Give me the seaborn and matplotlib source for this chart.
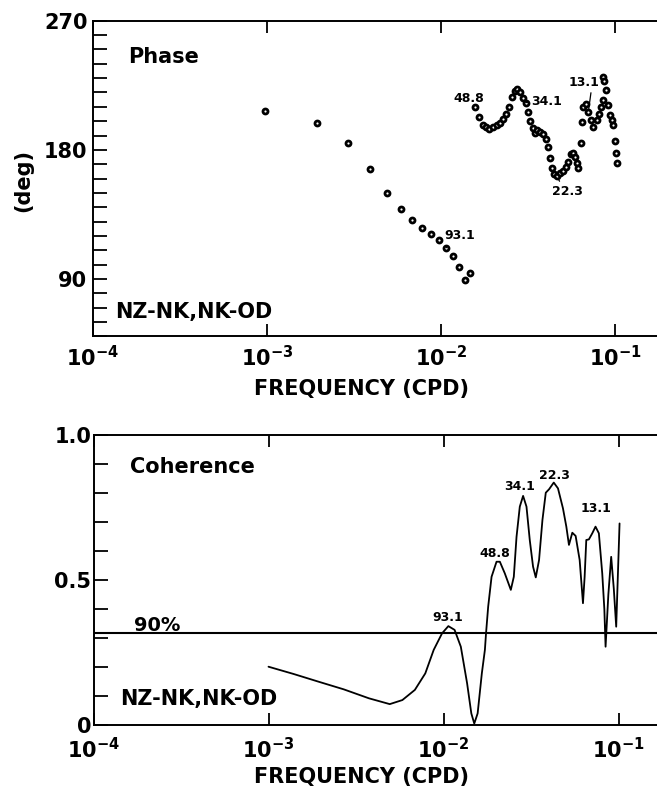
import numpy as np
import pandas as pd
import matplotlib
matplotlib.use("Agg")
import matplotlib.pyplot as plt
from matplotlib.ticker import MultipleLocator, NullLocator, FixedLocator
import seaborn as sns

# ── data ──────────────────────────────────────────────────────────
# phase, low-frequency branch (cpd, deg)
phase_freq_lo = [0.00098, 0.00195, 0.00293, 0.00391, 0.00488, 0.00586, 0.00684,
                 0.00781, 0.00879, 0.00977, 0.01074, 0.01172, 0.01270, 0.01367,
                 0.01465]
phase_deg_lo = [207.1, 198.9, 184.6, 166.4, 149.9, 138.8, 130.9,
                125.7, 121.1, 117.0, 111.8, 106.0, 98.6, 89.3,
                94.0]

# phase, high-frequency branch
phase_freq_hi = [0.01568, 0.01660, 0.01751, 0.01815, 0.01896, 0.01983, 0.02090,
                 0.02184, 0.02280, 0.02364, 0.02450, 0.02549, 0.02663, 0.02745,
                 0.02844, 0.02972, 0.03080, 0.03150, 0.03247, 0.03365, 0.03455,
                 0.03576, 0.03707, 0.03872, 0.03997, 0.04137, 0.04231, 0.04345,
                 0.04461, 0.04623, 0.04830, 0.05046, 0.05230, 0.05391, 0.05565,
                 0.05714, 0.05891, 0.06026, 0.06155, 0.06378, 0.06437, 0.06575,
                 0.06813, 0.07025, 0.07251, 0.07506, 0.07850, 0.08125, 0.08310,
                 0.08499, 0.08560, 0.08620, 0.08881, 0.09118, 0.09359, 0.09571,
                 0.09700, 0.10000, 0.10133, 0.10228]
phase_deg_hi = [209.7, 203.1, 197.3, 195.7, 194.7, 195.7, 197.1,
                198.5, 201.3, 205.0, 209.7, 216.6, 221.2, 222.2,
                220.5, 215.9, 212.9, 206.6, 200.3, 195.0, 192.0,
                193.8, 192.6, 190.8, 187.4, 182.2, 174.1, 167.1,
                163.2, 161.8, 163.7, 165.5, 168.3, 171.7, 177.1,
                178.0, 175.2, 171.0, 167.1, 184.6, 199.6, 209.7,
                212.0, 206.4, 200.8, 196.1, 200.8, 205.0, 209.9,
                214.7, 230.6, 227.7, 221.7, 211.3, 204.3, 200.8,
                197.3, 186.4, 177.8, 171.0]

# coherence
coh_freq = [0.00100, 0.00139, 0.00194, 0.00269, 0.00375, 0.00493, 0.00582,
            0.00686, 0.00787, 0.00879, 0.00981, 0.01066, 0.01157, 0.01256,
            0.01364, 0.01442, 0.01499, 0.01567, 0.01656, 0.01724, 0.01750,
            0.01800, 0.01882, 0.02009, 0.02099, 0.02240, 0.02425, 0.02522,
            0.02614, 0.02729, 0.02850, 0.02980, 0.03111, 0.03249, 0.03367,
            0.03516, 0.03676, 0.03841, 0.04012, 0.04266, 0.04510, 0.04816,
            0.05034, 0.05210, 0.05446, 0.05689, 0.05998, 0.06266, 0.06404,
            0.06545, 0.06774, 0.07081, 0.07391, 0.07724, 0.08074, 0.08300,
            0.08436, 0.08750, 0.09082, 0.09400, 0.09702, 0.10140]
coh_val = [0.201, 0.176, 0.149, 0.123, 0.092, 0.072, 0.086,
           0.121, 0.178, 0.259, 0.316, 0.341, 0.328, 0.270,
           0.144, 0.040, 0.005, 0.040, 0.178, 0.259, 0.316,
           0.408, 0.511, 0.563, 0.563, 0.523, 0.466, 0.511,
           0.649, 0.753, 0.790, 0.753, 0.638, 0.546, 0.509,
           0.569, 0.707, 0.801, 0.813, 0.836, 0.816, 0.747,
           0.684, 0.621, 0.663, 0.652, 0.569, 0.420, 0.511,
           0.638, 0.640, 0.661, 0.684, 0.661, 0.523, 0.400,
           0.270, 0.450, 0.580, 0.470, 0.339, 0.695]
conf90 = 0.317

decades = [1e-4, 1e-3, 1e-2, 1e-1]

# peak period labels (text, freq, value)
phase_labels = [("48.8", 0.01449, 216.1), ("34.1", 0.04064, 214.0),
                ("13.1", 0.06606, 226.6), ("22.3", 0.05334, 151.3),
                ("93.1", 0.01286, 120.0)]
# leader lines: label -> frequency of the marked point, start point on label
phase_leaders = {"93.1": (0.01074, (0.1, 0.0)), "34.1": (0.03080, (0.0, 0.5)),
                 "22.3": (0.04623, (0.3, 1.0)), "13.1": (0.07025, (0.75, 0.0))}
coh_labels = [("93.1", 0.01061, 0.369), ("48.8", 0.01965, 0.593),
              ("34.1", 0.02729, 0.824), ("22.3", 0.04318, 0.862),
              ("13.1", 0.07394, 0.748)]

# ── style ─────────────────────────────────────────────────────────
sns.set_style("ticks")
plt.rcParams["font.family"] = ["DejaVu Sans"]
plt.rcParams["font.weight"] = "bold"
plt.rcParams["axes.linewidth"] = 1.4
for k in ("text.color", "axes.labelcolor", "axes.edgecolor",
          "xtick.color", "ytick.color"):
    plt.rcParams[k] = "black"

W, H = 657, 786
fig = plt.figure(figsize=(W / 100, H / 100), dpi=100)

# axes extend past the right edge, as in the cropped scan
ax1 = fig.add_axes([93 / W, 1 - 336.4 / H, 4 * 174 / W, 315.7 / H])
ax2 = fig.add_axes([93.5 / W, 1 - 725 / H, 4 * 175 / W, 290 / H])

phase = pd.DataFrame({"freq": phase_freq_lo + phase_freq_hi,
                      "deg": phase_deg_lo + phase_deg_hi})
sns.scatterplot(data=phase, x="freq", y="deg", ax=ax1, marker="o", s=13,
                color="white", edgecolor="black", linewidth=2.0, zorder=3)

coh = pd.DataFrame({"freq": coh_freq, "coh": coh_val})
sns.lineplot(data=coh, x="freq", y="coh", ax=ax2, color="black", lw=1.3)
ax2.axhline(conf90, color="black", lw=1.5)

for ax in (ax1, ax2):
    ax.set_xscale("log")
    ax.set_xlim(1e-4, 1)
    ax.xaxis.set_major_locator(FixedLocator(decades))
    ax.xaxis.set_minor_locator(NullLocator())
    ax.tick_params(axis="x", which="both", direction="in", top=True,
                   length=8.5, width=1.3, labelsize=15)
    ax.tick_params(axis="y", which="both", direction="in", right=False,
                   length=10, width=1.3, labelsize=15)
    ax.set_xlabel("")
    ax.set_ylabel("")
    for s in ax.spines.values():
        s.set_linewidth(1.4)

ax1.set_ylim(50, 270)
ax1.set_yticks([90, 180, 270])
ax1.yaxis.set_minor_locator(MultipleLocator(10))
ax1.tick_params(axis="y", pad=4)
ax1.tick_params(axis="x", pad=6.5)

ax2.set_ylim(0, 1.0)
ax2.set_yticks([0, 0.5, 1.0], labels=["0", "0.5", "1.0"])
ax2.yaxis.set_minor_locator(MultipleLocator(0.1))
ax2.tick_params(axis="y", pad=1.5)
ax2.tick_params(axis="x", pad=8.5)

# panel texts
ax1.text(35 / 696, 0.865, "Phase", transform=ax1.transAxes, fontsize=15,
         va="baseline")
ax1.text(22 / 696, 0.0573, "NZ-NK,NK-OD", transform=ax1.transAxes,
         fontsize=15, va="baseline")
ax2.text(36.5 / 700, 0.870, "Coherence", transform=ax2.transAxes, fontsize=15,
         va="baseline")
ax2.text(26.5 / 700, 0.069, "NZ-NK,NK-OD", transform=ax2.transAxes,
         fontsize=15, va="baseline")
ax2.text(40.5 / 700, 0.324, "90%", transform=ax2.transAxes, fontsize=14,
         va="baseline")

# peak labels
for txt, f, v in phase_labels:
    if txt in phase_leaders:
        fp, rel = phase_leaders[txt]
        vp = phase["deg"][np.argmin(np.abs(phase["freq"] - fp))]
        ax1.annotate(txt, xy=(fp, vp), xytext=(f, v), fontsize=9,
                     ha="center", va="center",
                     arrowprops=dict(arrowstyle="-", lw=0.9, color="black",
                                     relpos=rel, shrinkA=0, shrinkB=2))
    else:
        ax1.text(f, v, txt, fontsize=9, ha="center", va="center")

for txt, f, v in coh_labels:
    ax2.text(f, v, txt, fontsize=9, ha="center", va="center")

# axis titles
fig.text(362 / W, 1 - 395 / H, "FREQUENCY (CPD)", fontsize=15,
         ha="center", va="baseline")
fig.text(362 / W, 1 - 783 / H, "FREQUENCY (CPD)", fontsize=15,
         ha="center", va="baseline")
fig.text(23 / W, 1 - 180 / H, "(deg)", fontsize=15, rotation=90,
         ha="center", va="center")

fig.savefig("out.png", dpi=100)
